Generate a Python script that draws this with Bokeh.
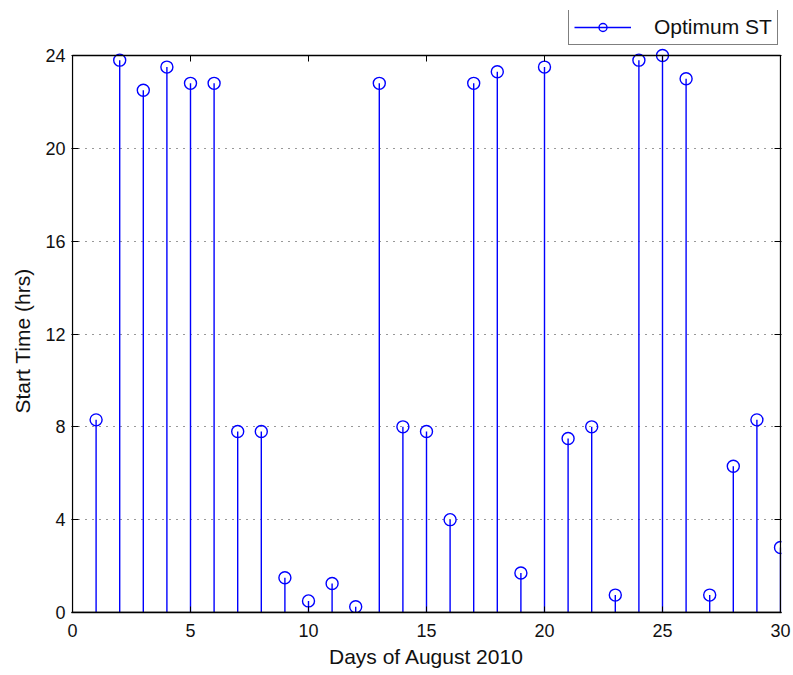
from bokeh.plotting import figure
from bokeh.models import (Range1d, LinearAxis, Legend, LegendItem, FixedTicker,
                          BoxAnnotation, Title)
from bokeh.embed import file_html
from bokeh.resources import INLINE

days = list(range(1, 31))
start_time = [8.3, 23.8, 22.5, 23.5, 22.8, 22.8, 7.8, 7.8, 1.5, 0.5,
              1.25, 0.25, 22.8, 8.0, 7.8, 4.0, 22.8, 23.3, 1.7, 23.5,
              7.5, 8.0, 0.75, 23.8, 24.0, 23.0, 0.75, 6.3, 8.3, 2.8]
x_ticks = [0, 5, 10, 15, 20, 25, 30]
y_ticks = [0, 4, 8, 12, 16, 20, 24]
series_name = "Optimum ST"
x_label = "Days of August 2010"
y_label = "Start Time (hrs)"

FONT = "Liberation Sans"
BLUE = "#0000FF"
X_MIN, X_MAX, Y_MIN, Y_MAX = 0, 30, 0, 24

BOX_W, BOX_H = 708, 557      # pixel size of the axes box (0..30 x 0..24)
PAD_X = 1                    # frame extends 1px left/right so box edges are not clipped
FRAME_H = 602                # frame extends above the box to hold the legend
x_pad = PAD_X * X_MAX / BOX_W
y_top = Y_MAX * FRAME_H / BOX_H
tick_len = 6 * Y_MAX / BOX_H

p = figure(frame_width=BOX_W + 2 * PAD_X, frame_height=FRAME_H, output_backend="svg",
           toolbar_location=None,
           x_range=Range1d(X_MIN - x_pad, X_MAX + x_pad), y_range=Range1d(Y_MIN, y_top),
           min_border_left=71, min_border_right=12, min_border_top=10,
           min_border_bottom=63)
p.outline_line_color = None
p.background_fill_color = "white"
p.border_fill_color = "white"

p.xgrid.grid_line_color = None
p.ygrid.ticker = FixedTicker(ticks=[t for t in y_ticks if Y_MIN < t < Y_MAX])
p.ygrid.grid_line_color = "#333333"
p.ygrid.grid_line_dash = "1 6"
p.ygrid.grid_line_width = 1.2

zeros = [0] * len(days)
seg = p.segment(x0=days, y0=zeros, x1=days, y1=start_time, line_color=BLUE, line_width=1.4)
circ = p.scatter(days, start_time, marker="circle", size=12, fill_color=None,
                 line_color=BLUE, line_width=1.4)

# axes box (0..30 x 0..24) and top tick marks
p.add_layout(BoxAnnotation(left=X_MIN, right=X_MAX, bottom=Y_MIN, top=Y_MAX,
                           fill_alpha=0, line_color="black", line_alpha=1.0,
                           line_width=1.3))
p.segment(x0=x_ticks, y0=[Y_MAX] * len(x_ticks), x1=x_ticks,
          y1=[Y_MAX - tick_len] * len(x_ticks), line_color="black", line_width=1)

for ax in [p.xaxis[0], p.yaxis[0]]:
    ax.major_tick_out = 0
    ax.minor_tick_in = 0
    ax.minor_tick_out = 0
    ax.major_tick_line_color = "black"
    ax.major_label_text_font = FONT
    ax.major_label_text_font_size = "18px"
    ax.major_label_text_color = "#111111"
    ax.axis_label_text_font = FONT
    ax.axis_label_text_font_size = "21px"
    ax.axis_label_text_font_style = "normal"
    ax.axis_label_text_color = "#111111"

p.xaxis.major_tick_in = 6
p.yaxis.major_tick_in = 7
p.xaxis.axis_line_color = "black"
p.xaxis.axis_line_width = 1.3
p.yaxis.axis_line_color = None
p.xaxis.ticker = FixedTicker(ticks=x_ticks)
p.yaxis.ticker = FixedTicker(ticks=y_ticks)
p.xaxis.axis_label = x_label
p.xaxis.major_label_standoff = 11
p.yaxis.major_label_standoff = 6
p.xaxis.axis_label_standoff = 5

right = LinearAxis(ticker=FixedTicker(ticks=y_ticks),
                   major_label_overrides={t: "" for t in y_ticks},
                   major_tick_in=7, major_tick_out=0, minor_tick_in=0, minor_tick_out=0,
                   axis_line_color=None, major_label_standoff=0)
p.add_layout(right, "right")

ytitle = Title(text=y_label, align="left", offset=199, standoff=17,
               text_font=FONT, text_font_size="21px", text_font_style="normal",
               text_color="#111111")
p.add_layout(ytitle, "left")

legend = Legend(items=[LegendItem(label=series_name, renderers=[seg, circ])],
                location=(497, 567), border_line_color="black", border_line_width=1.2,
                label_text_font=FONT, label_text_font_size="21px",
                label_text_color="#111111",
                glyph_width=57, padding=5, margin=0, spacing=0,
                label_standoff=23, background_fill_alpha=1.0)
p.add_layout(legend, "center")

open("out.html", "w").write(file_html(p, INLINE))
